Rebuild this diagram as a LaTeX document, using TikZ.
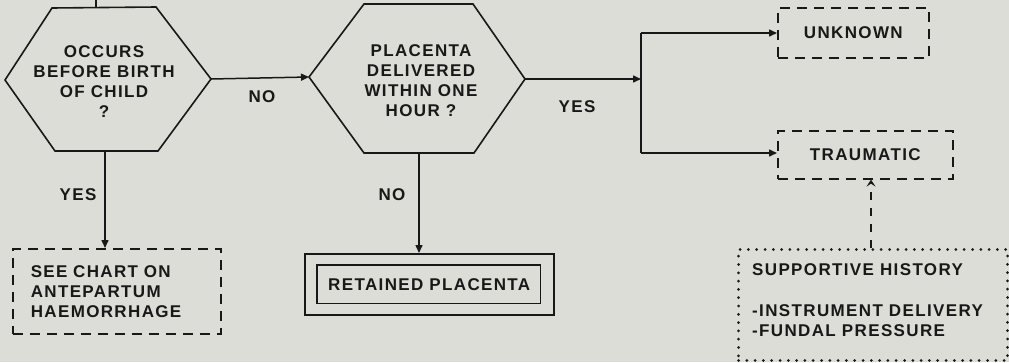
\documentclass[tikz,border=0pt]{standalone}
\usepackage{fontspec}
\setmainfont{Liberation Sans}[LetterSpace=8]
\usetikzlibrary{arrows.meta}
\definecolor{paper}{RGB}{221,221,216}
\definecolor{ink}{RGB}{24,24,24}
\tikzset{
  txt/.style={font=\fontsize{17}{20}\selectfont\bfseries, text=ink, inner sep=0pt},
  flow/.style={draw=ink, line width=1.5pt, -{Triangle[length=8pt,width=7pt]}},
  plain/.style={draw=ink, line width=1.5pt},
  hexa/.style={draw=ink, line width=1.6pt, line join=miter},
  dashbox/.style={draw=ink, line width=1.6pt, dash pattern=on 10pt off 7pt, txt},
  dotbox/.style={draw=ink, line width=3pt, line cap=round, dash pattern=on 0pt off 8.3pt},
  hint/.style={draw=ink, line width=1.5pt, dash pattern=on 8pt off 8pt,
    -{Stealth[length=7pt,width=9pt,inset=3pt]}},
}
\begin{document}
\begin{tikzpicture}[x=1pt,y=-1pt]
\useasboundingbox (0,0) rectangle (1009,362);
\fill[paper] (0,0) rectangle (1009,362);
\clip (0,0) rectangle (1009,362);

% first decision hexagon
\coordinate (h1n) at (96,7);
\coordinate (h1w) at (5,80);
\coordinate (h1e) at (211,79);
\coordinate (h1s) at (105,151);
\draw[hexa] (52,8) -- (156,7) -- (h1e) -- (158,151) -- (55,151) -- (h1w) -- cycle;
\node[txt, align=center] (q1) at (104,82) {OCCURS\\BEFORE BIRTH\\OF CHILD\\?};
\coordinate (top) at (96,-4);
\draw[plain] (top) -- (h1n);

% second decision hexagon
\coordinate (h2w) at (309,77);
\coordinate (h2e) at (525,79);
\coordinate (h2s) at (419,153);
\draw[hexa] (364,4) -- (473,4) -- (h2e) -- (474,153) -- (364,153) -- (h2w) -- cycle;
\node[txt, align=center] (q2) at (421,81) {PLACENTA\\DELIVERED\\WITHIN ONE\\HOUR ?};

% outcome boxes
\node[dashbox, minimum width=208pt, minimum height=85pt, text width=172pt,
      inner xsep=18pt, align=left, anchor=north west] (aph) at (12,248)
      {SEE CHART ON\\ANTEPARTUM\\HAEMORRHAGE};
\node[draw=ink, line width=1.5pt, txt, minimum width=249pt, minimum height=61pt,
      anchor=north west] (ret) at (304,253) {RETAINED PLACENTA};
\draw[ink, line width=1.4pt] ([shift={(13,12)}]ret.north west)
      rectangle ([shift={(-14,-12)}]ret.south east);
\node[dashbox, minimum width=151pt, minimum height=50pt, anchor=north west]
      (unk) at (777,7) {UNKNOWN};
\node[dashbox, minimum width=175pt, minimum height=48pt, anchor=north west]
      (trm) at (777,130) {TRAUMATIC};

% supporting history panel
\node[dotbox, minimum width=269pt, minimum height=111pt, anchor=north west]
      (hist) at (737,248) {};
\node[txt, align=left, anchor=north west] (histtxt) at (752,263)
      {SUPPORTIVE HISTORY\\[21pt]-INSTRUMENT DELIVERY\\-FUNDAL PRESSURE};

% branch junction
\coordinate (jn) at (641,79);
\coordinate (jt) at (641,33);
\coordinate (jb) at (641,153);

% connectors
\draw[flow] (h1e) -- (h2w);
\draw[flow] (h1s) -- (h1s |- aph.north);
\draw[flow] (h2s) -- (h2s |- ret.north);
\draw[flow] (h2e) -- (jn);
\draw[plain] (jt) -- (jb);
\draw[flow] (jt) -- (unk.west |- jt);
\draw[flow] (jb) -- (trm.west |- jb);
\draw[hint] (871,248) coordinate (hs) -- (hs |- trm.south);

% branch labels
\node[txt] (l1) at (78,195) {YES};
\node[txt] (l2) at (262,97) {NO};
\node[txt] (l3) at (392,195) {NO};
\node[txt] (l4) at (577,107) {YES};
\end{tikzpicture}
\end{document}
